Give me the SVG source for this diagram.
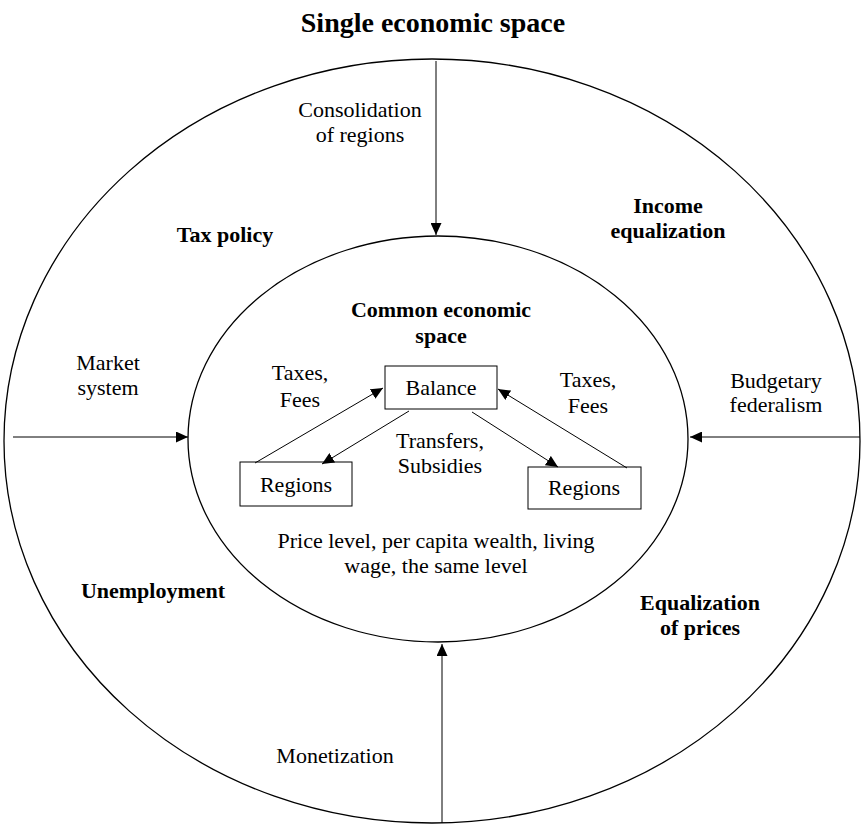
<svg xmlns="http://www.w3.org/2000/svg" width="861" height="825" viewBox="0 0 861 825">
<defs>
<style>
text{font-family:"Liberation Serif","Times New Roman",serif;font-size:22px;fill:#000;text-anchor:middle}
.b{font-weight:bold}
.t{font-size:28px;font-weight:bold}
.ring{fill:none;stroke:#000;stroke-width:1.3}
.box{fill:#fff;stroke:#000;stroke-width:1}
.c{stroke:#000;stroke-width:1;fill:none;marker-end:url(#ah)}
</style>
<marker id="ah" viewBox="0 0 12 11" refX="12" refY="5.5" markerWidth="12" markerHeight="11" markerUnits="userSpaceOnUse" orient="auto">
<path d="M0,0 L12,5.5 L0,11 Z" fill="#000"/>
</marker>
</defs>
<rect width="861" height="825" fill="#fff"/>
<text class="t" x="433" y="32">Single economic space</text>
<g id="outer"><ellipse class="ring" cx="432" cy="441" rx="428" ry="382"/></g>
<g id="inner"><ellipse class="ring" cx="438" cy="439" rx="250" ry="203"/></g>
<g id="labels-outer">
<text x="360" y="117">Consolidation</text>
<text x="360" y="142">of regions</text>
<text class="b" x="225" y="242">Tax policy</text>
<text class="b" x="668" y="213">Income</text>
<text class="b" x="668" y="238">equalization</text>
<text x="108" y="370">Market</text>
<text x="108" y="395">system</text>
<text x="776" y="388">Budgetary</text>
<text x="776" y="412">federalism</text>
<text class="b" x="153" y="598">Unemployment</text>
<text class="b" x="700" y="610">Equalization</text>
<text class="b" x="700" y="635">of prices</text>
<text x="335" y="763">Monetization</text>
</g>
<g id="labels-inner">
<text class="b" x="441" y="317">Common economic</text>
<text class="b" x="441" y="343">space</text>
<text x="300" y="380">Taxes,</text>
<text x="300" y="407">Fees</text>
<text x="588" y="387">Taxes,</text>
<text x="588" y="413">Fees</text>
<text x="440" y="448">Transfers,</text>
<text x="440" y="473">Subsidies</text>
<text x="436" y="548">Price level, per capita wealth, living</text>
<text x="436" y="573">wage, the same level</text>
</g>
<g id="balance"><rect class="box" x="385" y="366" width="112" height="43"/><text x="441" y="395">Balance</text></g>
<g id="regions-left"><rect class="box" x="240" y="462" width="112" height="44"/><text x="296" y="492">Regions</text></g>
<g id="regions-right"><rect class="box" x="528" y="467" width="113" height="42"/><text x="584" y="495">Regions</text></g>
<g id="connectors">
<line class="c" x1="436" y1="61" x2="436" y2="235"/>
<line class="c" x1="13" y1="437" x2="188" y2="437"/>
<line class="c" x1="860" y1="437" x2="690" y2="437"/>
<line class="c" x1="442" y1="823" x2="442" y2="644"/>
<line class="c" x1="255" y1="463" x2="383" y2="388"/>
<line class="c" x1="409" y1="411" x2="322" y2="464"/>
<line class="c" x1="472" y1="412" x2="558" y2="467"/>
<line class="c" x1="627" y1="468" x2="498" y2="389"/>
</g>
</svg>
